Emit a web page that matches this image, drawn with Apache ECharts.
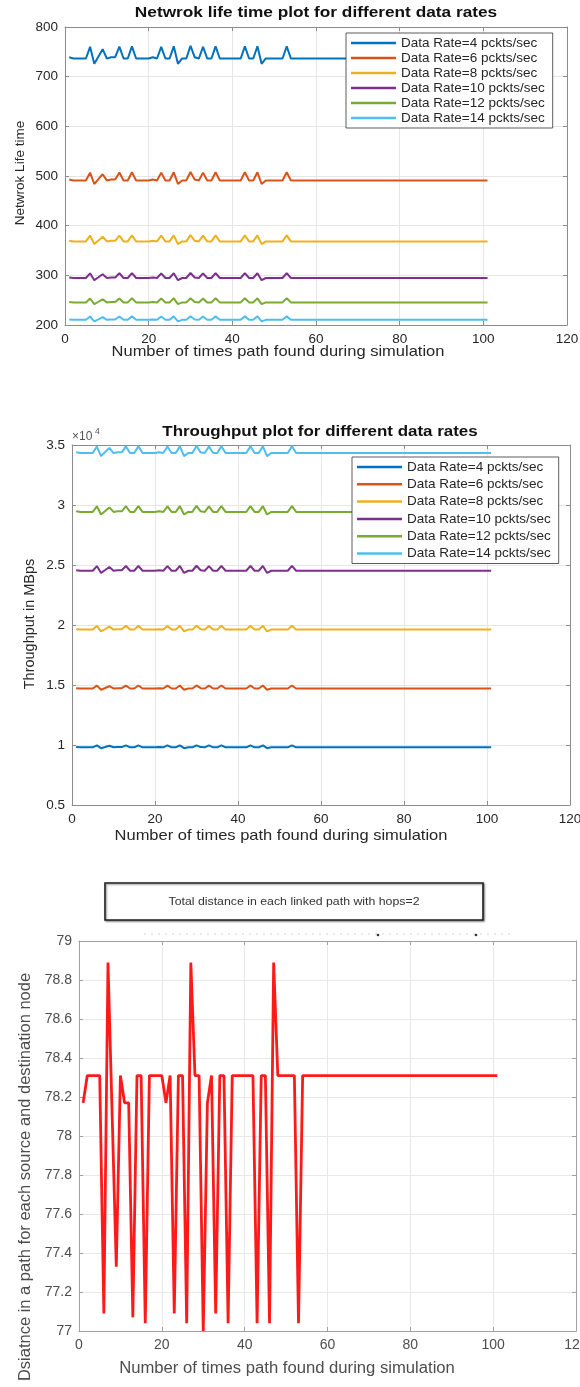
<!DOCTYPE html>
<html>
<head>
<meta charset="utf-8">
<script src="https://cdn.jsdelivr.net/npm/echarts@6/dist/echarts.min.js"></script>
<style>
  html, body { margin: 0; padding: 0; background: #ffffff; }
  #chart { width: 580px; height: 1387px; }
</style>
</head>
<body>
<div id="chart"></div>
<script>
// ---- data -------------------------------------------------------------
const rateNames = [
  'Data Rate=4 pckts/sec', 'Data Rate=6 pckts/sec', 'Data Rate=8 pckts/sec',
  'Data Rate=10 pckts/sec', 'Data Rate=12 pckts/sec', 'Data Rate=14 pckts/sec'
];
const rateColors = ['#0072BD', '#D95319', '#EDB120', '#7E2F8E', '#77AC30', '#4DBEEE'];

// network life time, one value per path found (1..101)
const life4 = [
  739.2,736.6,736.6,736.6,736.6,760.1,725.8,740.4,755.4,736.6,
  739.2,739.2,760.5,736.6,736.6,761.1,736.6,736.6,736.6,736.6,
  739.2,736.6,760.1,736.6,736.6,761.1,725.8,736.6,736.6,761.9,
  739.2,736.6,760.1,736.6,736.6,761.1,736.6,736.6,736.6,736.6,
  736.6,736.6,761.1,736.6,736.6,761.1,725.8,736.6,736.6,736.6,
  736.6,736.6,761.1,736.6,736.6,736.6,736.6,736.6,736.6,736.6,
  736.6,736.6,736.6,736.6,736.6,736.6,736.6,736.6,736.6,736.6,
  736.6,736.6,736.6,736.6,736.6,736.6,736.6,736.6,736.6,736.6,
  736.6,736.6,736.6,736.6,736.6,736.6,736.6,736.6,736.6,736.6,
  736.6,736.6,736.6,736.6,736.6,736.6,736.6,736.6,736.6,736.6,
  736.6
];
const life6 = [
  492.9,491.1,491.1,491.1,491.1,506.8,483.9,493.6,503.6,491.1,
  492.9,492.9,507.0,491.1,491.1,507.4,491.1,491.1,491.1,491.1,
  492.9,491.1,506.8,491.1,491.1,507.4,483.9,491.1,491.1,508.0,
  492.9,491.1,506.8,491.1,491.1,507.4,491.1,491.1,491.1,491.1,
  491.1,491.1,507.4,491.1,491.1,507.4,483.9,491.1,491.1,491.1,
  491.1,491.1,507.4,491.1,491.1,491.1,491.1,491.1,491.1,491.1,
  491.1,491.1,491.1,491.1,491.1,491.1,491.1,491.1,491.1,491.1,
  491.1,491.1,491.1,491.1,491.1,491.1,491.1,491.1,491.1,491.1,
  491.1,491.1,491.1,491.1,491.1,491.1,491.1,491.1,491.1,491.1,
  491.1,491.1,491.1,491.1,491.1,491.1,491.1,491.1,491.1,491.1,
  491.1
];
const life8 = [
  369.6,368.3,368.3,368.3,368.3,380.1,362.9,370.2,377.7,368.3,
  369.6,369.6,380.2,368.3,368.3,380.5,368.3,368.3,368.3,368.3,
  369.6,368.3,380.1,368.3,368.3,380.5,362.9,368.3,368.3,380.9,
  369.6,368.3,380.1,368.3,368.3,380.5,368.3,368.3,368.3,368.3,
  368.3,368.3,380.5,368.3,368.3,380.5,362.9,368.3,368.3,368.3,
  368.3,368.3,380.5,368.3,368.3,368.3,368.3,368.3,368.3,368.3,
  368.3,368.3,368.3,368.3,368.3,368.3,368.3,368.3,368.3,368.3,
  368.3,368.3,368.3,368.3,368.3,368.3,368.3,368.3,368.3,368.3,
  368.3,368.3,368.3,368.3,368.3,368.3,368.3,368.3,368.3,368.3,
  368.3,368.3,368.3,368.3,368.3,368.3,368.3,368.3,368.3,368.3,
  368.3
];
const life10 = [
  295.7,294.6,294.6,294.6,294.6,304.0,290.3,296.1,302.1,294.6,
  295.7,295.7,304.2,294.6,294.6,304.4,294.6,294.6,294.6,294.6,
  295.7,294.6,304.0,294.6,294.6,304.4,290.3,294.6,294.6,304.7,
  295.7,294.6,304.0,294.6,294.6,304.4,294.6,294.6,294.6,294.6,
  294.6,294.6,304.4,294.6,294.6,304.4,290.3,294.6,294.6,294.6,
  294.6,294.6,304.4,294.6,294.6,294.6,294.6,294.6,294.6,294.6,
  294.6,294.6,294.6,294.6,294.6,294.6,294.6,294.6,294.6,294.6,
  294.6,294.6,294.6,294.6,294.6,294.6,294.6,294.6,294.6,294.6,
  294.6,294.6,294.6,294.6,294.6,294.6,294.6,294.6,294.6,294.6,
  294.6,294.6,294.6,294.6,294.6,294.6,294.6,294.6,294.6,294.6,
  294.6
];
const life12 = [
  246.4,245.5,245.5,245.5,245.5,253.3,241.9,246.8,251.8,245.5,
  246.4,246.4,253.5,245.5,245.5,253.7,245.5,245.5,245.5,245.5,
  246.4,245.5,253.3,245.5,245.5,253.7,241.9,245.5,245.5,253.9,
  246.4,245.5,253.3,245.5,245.5,253.7,245.5,245.5,245.5,245.5,
  245.5,245.5,253.7,245.5,245.5,253.7,241.9,245.5,245.5,245.5,
  245.5,245.5,253.7,245.5,245.5,245.5,245.5,245.5,245.5,245.5,
  245.5,245.5,245.5,245.5,245.5,245.5,245.5,245.5,245.5,245.5,
  245.5,245.5,245.5,245.5,245.5,245.5,245.5,245.5,245.5,245.5,
  245.5,245.5,245.5,245.5,245.5,245.5,245.5,245.5,245.5,245.5,
  245.5,245.5,245.5,245.5,245.5,245.5,245.5,245.5,245.5,245.5,
  245.5
];
const life14 = [
  211.2,210.4,210.4,210.4,210.4,217.1,207.3,211.5,215.8,210.4,
  211.2,211.2,217.2,210.4,210.4,217.4,210.4,210.4,210.4,210.4,
  211.2,210.4,217.1,210.4,210.4,217.4,207.3,210.4,210.4,217.6,
  211.2,210.4,217.1,210.4,210.4,217.4,210.4,210.4,210.4,210.4,
  210.4,210.4,217.4,210.4,210.4,217.4,207.3,210.4,210.4,210.4,
  210.4,210.4,217.4,210.4,210.4,210.4,210.4,210.4,210.4,210.4,
  210.4,210.4,210.4,210.4,210.4,210.4,210.4,210.4,210.4,210.4,
  210.4,210.4,210.4,210.4,210.4,210.4,210.4,210.4,210.4,210.4,
  210.4,210.4,210.4,210.4,210.4,210.4,210.4,210.4,210.4,210.4,
  210.4,210.4,210.4,210.4,210.4,210.4,210.4,210.4,210.4,210.4,
  210.4
];

// throughput in MBps
const thr4 = [
  9826,9808,9808,9808,9808,9963,9736,9833,9932,9808,
  9826,9826,9966,9808,9808,9970,9808,9808,9808,9808,
  9826,9808,9963,9808,9808,9970,9736,9808,9808,9975,
  9826,9808,9963,9808,9808,9970,9808,9808,9808,9808,
  9808,9808,9970,9808,9808,9970,9736,9808,9808,9808,
  9808,9808,9970,9808,9808,9808,9808,9808,9808,9808,
  9808,9808,9808,9808,9808,9808,9808,9808,9808,9808,
  9808,9808,9808,9808,9808,9808,9808,9808,9808,9808,
  9808,9808,9808,9808,9808,9808,9808,9808,9808,9808,
  9808,9808,9808,9808,9808,9808,9808,9808,9808,9808,
  9808
];
const thr6 = [
  14738,14712,14712,14712,14712,14945,14604,14750,14899,14712,
  14738,14738,14949,14712,14712,14954,14712,14712,14712,14712,
  14738,14712,14945,14712,14712,14954,14604,14712,14712,14962,
  14738,14712,14945,14712,14712,14954,14712,14712,14712,14712,
  14712,14712,14954,14712,14712,14954,14604,14712,14712,14712,
  14712,14712,14954,14712,14712,14712,14712,14712,14712,14712,
  14712,14712,14712,14712,14712,14712,14712,14712,14712,14712,
  14712,14712,14712,14712,14712,14712,14712,14712,14712,14712,
  14712,14712,14712,14712,14712,14712,14712,14712,14712,14712,
  14712,14712,14712,14712,14712,14712,14712,14712,14712,14712,
  14712
];
const thr8 = [
  19651,19616,19616,19616,19616,19926,19472,19666,19865,19616,
  19651,19651,19932,19616,19616,19939,19616,19616,19616,19616,
  19651,19616,19926,19616,19616,19939,19472,19616,19616,19950,
  19651,19616,19926,19616,19616,19939,19616,19616,19616,19616,
  19616,19616,19939,19616,19616,19939,19472,19616,19616,19616,
  19616,19616,19939,19616,19616,19616,19616,19616,19616,19616,
  19616,19616,19616,19616,19616,19616,19616,19616,19616,19616,
  19616,19616,19616,19616,19616,19616,19616,19616,19616,19616,
  19616,19616,19616,19616,19616,19616,19616,19616,19616,19616,
  19616,19616,19616,19616,19616,19616,19616,19616,19616,19616,
  19616
];
const thr10 = [
  24564,24520,24520,24520,24520,24908,24340,24583,24831,24520,
  24564,24564,24915,24520,24520,24924,24520,24520,24520,24520,
  24564,24520,24908,24520,24520,24924,24340,24520,24520,24937,
  24564,24520,24908,24520,24520,24924,24520,24520,24520,24520,
  24520,24520,24924,24520,24520,24924,24340,24520,24520,24520,
  24520,24520,24924,24520,24520,24520,24520,24520,24520,24520,
  24520,24520,24520,24520,24520,24520,24520,24520,24520,24520,
  24520,24520,24520,24520,24520,24520,24520,24520,24520,24520,
  24520,24520,24520,24520,24520,24520,24520,24520,24520,24520,
  24520,24520,24520,24520,24520,24520,24520,24520,24520,24520,
  24520
];
const thr12 = [
  29477,29424,29424,29424,29424,29890,29208,29499,29797,29424,
  29477,29477,29897,29424,29424,29909,29424,29424,29424,29424,
  29477,29424,29890,29424,29424,29909,29208,29424,29424,29925,
  29477,29424,29890,29424,29424,29909,29424,29424,29424,29424,
  29424,29424,29909,29424,29424,29909,29208,29424,29424,29424,
  29424,29424,29909,29424,29424,29424,29424,29424,29424,29424,
  29424,29424,29424,29424,29424,29424,29424,29424,29424,29424,
  29424,29424,29424,29424,29424,29424,29424,29424,29424,29424,
  29424,29424,29424,29424,29424,29424,29424,29424,29424,29424,
  29424,29424,29424,29424,29424,29424,29424,29424,29424,29424,
  29424
];
const thr14 = [
  34389,34328,34328,34328,34328,34871,34076,34416,34763,34328,
  34389,34389,34880,34328,34328,34894,34328,34328,34328,34328,
  34389,34328,34871,34328,34328,34894,34076,34328,34328,34913,
  34389,34328,34871,34328,34328,34894,34328,34328,34328,34328,
  34328,34328,34894,34328,34328,34894,34076,34328,34328,34328,
  34328,34328,34894,34328,34328,34328,34328,34328,34328,34328,
  34328,34328,34328,34328,34328,34328,34328,34328,34328,34328,
  34328,34328,34328,34328,34328,34328,34328,34328,34328,34328,
  34328,34328,34328,34328,34328,34328,34328,34328,34328,34328,
  34328,34328,34328,34328,34328,34328,34328,34328,34328,34328,
  34328
];

// total distance of each linked path (hops = 2)
const distance = [
  78.17,78.31,78.31,78.31,78.31,77.09,78.89,78.11,77.33,78.31,
  78.17,78.17,77.07,78.31,78.31,77.04,78.31,78.31,78.31,78.31,
  78.17,78.31,77.09,78.31,78.31,77.04,78.89,78.31,78.31,77.00,
  78.17,78.31,77.09,78.31,78.31,77.04,78.31,78.31,78.31,78.31,
  78.31,78.31,77.04,78.31,78.31,77.04,78.89,78.31,78.31,78.31,
  78.31,78.31,77.04,78.31,78.31,78.31,78.31,78.31,78.31,78.31,
  78.31,78.31,78.31,78.31,78.31,78.31,78.31,78.31,78.31,78.31,
  78.31,78.31,78.31,78.31,78.31,78.31,78.31,78.31,78.31,78.31,
  78.31,78.31,78.31,78.31,78.31,78.31,78.31,78.31,78.31,78.31,
  78.31,78.31,78.31,78.31,78.31,78.31,78.31,78.31,78.31,78.31,
  78.31
];

const lifeSeries = [life4, life6, life8, life10, life12, life14];
const thrSeries = [thr4, thr6, thr8, thr10, thr12, thr14];

// ---- layout helpers ---------------------------------------------------
const FONT = 'Arial, "Liberation Sans", Helvetica, sans-serif';
const TEXT = '#262626';

function xAxes(g, st) {
  const base = { type: 'value', gridIndex: g, min: 0, max: 120, interval: 20 };
  return [
    Object.assign({}, base, {
      position: 'bottom',
      axisLine: { show: true, onZero: false, lineStyle: { color: st.axis, width: 1 } },
      axisTick: { show: true, inside: true, length: 4, lineStyle: { color: st.axis } },
      axisLabel: { color: st.label, fontSize: st.font, fontFamily: FONT, margin: 7 },
      splitLine: { show: true, lineStyle: { color: st.grid, width: 1 } }
    }),
    Object.assign({}, base, {
      position: 'top',
      axisLine: { show: true, onZero: false, lineStyle: { color: st.axis, width: 1 } },
      axisTick: { show: true, inside: true, length: 4, lineStyle: { color: st.axis } },
      axisLabel: { show: false },
      splitLine: { show: false }
    })
  ];
}

function yAxes(g, min, max, interval, fmt, st) {
  const base = { type: 'value', gridIndex: g, min: min, max: max, interval: interval };
  return [
    Object.assign({}, base, {
      position: 'left',
      axisLine: { show: true, onZero: false, lineStyle: { color: st.axis, width: 1 } },
      axisTick: { show: true, inside: true, length: 4, lineStyle: { color: st.axis } },
      axisLabel: { color: st.label, fontSize: st.font, fontFamily: FONT, margin: 7, formatter: fmt },
      splitLine: { show: true, lineStyle: { color: st.grid, width: 1 } }
    }),
    Object.assign({}, base, {
      position: 'right',
      axisLine: { show: true, onZero: false, lineStyle: { color: st.axis, width: 1 } },
      axisTick: { show: true, inside: true, length: 4, lineStyle: { color: st.axis } },
      axisLabel: { show: false },
      splitLine: { show: false }
    })
  ];
}

function toPoints(arr) {
  return arr.map((v, i) => [i + 1, v]);
}

function text(x, y, str, opt) {
  opt = opt || {};
  return {
    type: 'text', x: x, y: y, rotation: opt.rotation || 0,
    scaleX: opt.scaleX || 1, z: 10,
    style: {
      text: str,
      fontSize: opt.size || 14,
      fontFamily: FONT,
      fontWeight: opt.weight || 'normal',
      fill: opt.color || TEXT,
      textAlign: opt.align || 'center',
      textVerticalAlign: 'middle',
      align: opt.align || 'center',
      verticalAlign: 'middle'
    }
  };
}

const st1 = { axis: '#8c8c8c', label: TEXT, grid: '#e6e6e6', font: 13.5 };
const st2 = { axis: '#8c8c8c', label: TEXT, grid: '#e6e6e6', font: 13.5 };
const st3 = { axis: '#a0a0a0', label: '#4d4d4d', grid: '#e8e8e8', font: 14 };

const series = [];
lifeSeries.forEach((arr, k) => {
  series.push({
    type: 'line', name: rateNames[k], xAxisIndex: 0, yAxisIndex: 0,
    data: toPoints(arr), symbol: 'none', color: rateColors[k],
    lineStyle: { width: 2, color: rateColors[k] }
  });
});
thrSeries.forEach((arr, k) => {
  series.push({
    type: 'line', name: rateNames[k], xAxisIndex: 2, yAxisIndex: 2,
    data: toPoints(arr), symbol: 'none', color: rateColors[k],
    lineStyle: { width: 2, color: rateColors[k] }
  });
});
series.push({
  type: 'line', name: 'distance', xAxisIndex: 4, yAxisIndex: 4,
  data: toPoints(distance), symbol: 'none', color: '#ff0000',
  lineStyle: { width: 2.8, color: '#ff1a1a' }
});

function legendBox(left, top, gap, lh) {
  return {
    data: rateNames, orient: 'vertical', left: left, top: top,
    icon: 'rect', itemWidth: 45, itemHeight: 2.5, itemGap: gap,
    selectedMode: false,
    backgroundColor: '#ffffff', borderColor: '#333333', borderWidth: 0.8, borderRadius: 0,
    padding: [3, 8, 3, 5],
    textStyle: { fontSize: 13.5, fontFamily: FONT, color: TEXT, lineHeight: lh }
  };
}

const option = {
  animation: false,
  backgroundColor: '#ffffff',
  grid: [
    { left: 65, top: 27, width: 502, height: 298, outerBoundsMode: 'none', containLabel: false },
    { left: 72, top: 445, width: 498, height: 360, outerBoundsMode: 'none', containLabel: false },
    { left: 79, top: 941, width: 497, height: 390, outerBoundsMode: 'none', containLabel: false }
  ],
  xAxis: [].concat(xAxes(0, st1), xAxes(1, st2), xAxes(2, st3)),
  yAxis: [].concat(
    yAxes(0, 200, 800, 100, null, st1),
    yAxes(1, 5000, 35000, 5000, v => String(v / 10000), st2),
    yAxes(2, 77, 79, 0.2, null, st3)
  ),
  legend: [legendBox(346, 33, 1, 13.2), legendBox(352, 457, 3.3, 14)],
  series: series,
  graphic: [
    // chart 1 texts
    text(316, 13, 'Netwrok life time plot for different data rates', { size: 15, weight: 'bold', color: '#111', scaleX: 1.15 }),
    text(278, 352, 'Number of times path found during simulation', { size: 15, scaleX: 1.1 }),
    text(20, 173, 'Netwrok Life time', { size: 13.5, rotation: Math.PI / 2 }),
    // chart 2 texts
    text(320, 432, 'Throughput plot for different data rates', { size: 15, weight: 'bold', color: '#111', scaleX: 1.13 }),
    text(72, 437, '\u00d710', { size: 12, align: 'left', color: '#555' }),
    text(95, 432, '4', { size: 8.5, align: 'left', color: '#555' }),
    text(281, 836, 'Number of times path found during simulation', { size: 15, scaleX: 1.1 }),
    text(30, 624, 'Throughput in MBps', { size: 14.5, rotation: Math.PI / 2 }),
    // chart 3 heading box and texts
    {
      type: 'rect', z: 9,
      shape: { x: 105, y: 883, width: 378, height: 37 },
      style: {
        fill: '#ffffff', stroke: '#222222', lineWidth: 1.6,
        shadowBlur: 2, shadowOffsetX: 1, shadowOffsetY: 1, shadowColor: 'rgba(0,0,0,0.45)'
      }
    },
    text(294, 902, 'Total distance in each linked path with hops=2', { size: 11, color: '#333', scaleX: 1.12 }),
    // faint dotted trace above the third plot
    {
      type: 'line', z: 3,
      shape: { x1: 144, y1: 934, x2: 511, y2: 934 },
      style: { stroke: '#d6d6d6', lineWidth: 1, lineDash: [2, 5] }
    },
    { type: 'circle', z: 3, shape: { cx: 378, cy: 935, r: 1.3 }, style: { fill: '#333' } },
    { type: 'circle', z: 3, shape: { cx: 476, cy: 935, r: 1.3 }, style: { fill: '#333' } },
    text(287, 1369, 'Number of times path found during simulation', { size: 16, color: '#4d4d4d', scaleX: 1.04 }),
    text(25, 1177, 'Dsiatnce in a path for each source and destination node', { size: 16.5, color: '#4d4d4d', rotation: Math.PI / 2 })
  ]
};

const chart = echarts.init(document.getElementById('chart'), null, { renderer: 'canvas' });
chart.setOption(option);
</script>
</body>
</html>
